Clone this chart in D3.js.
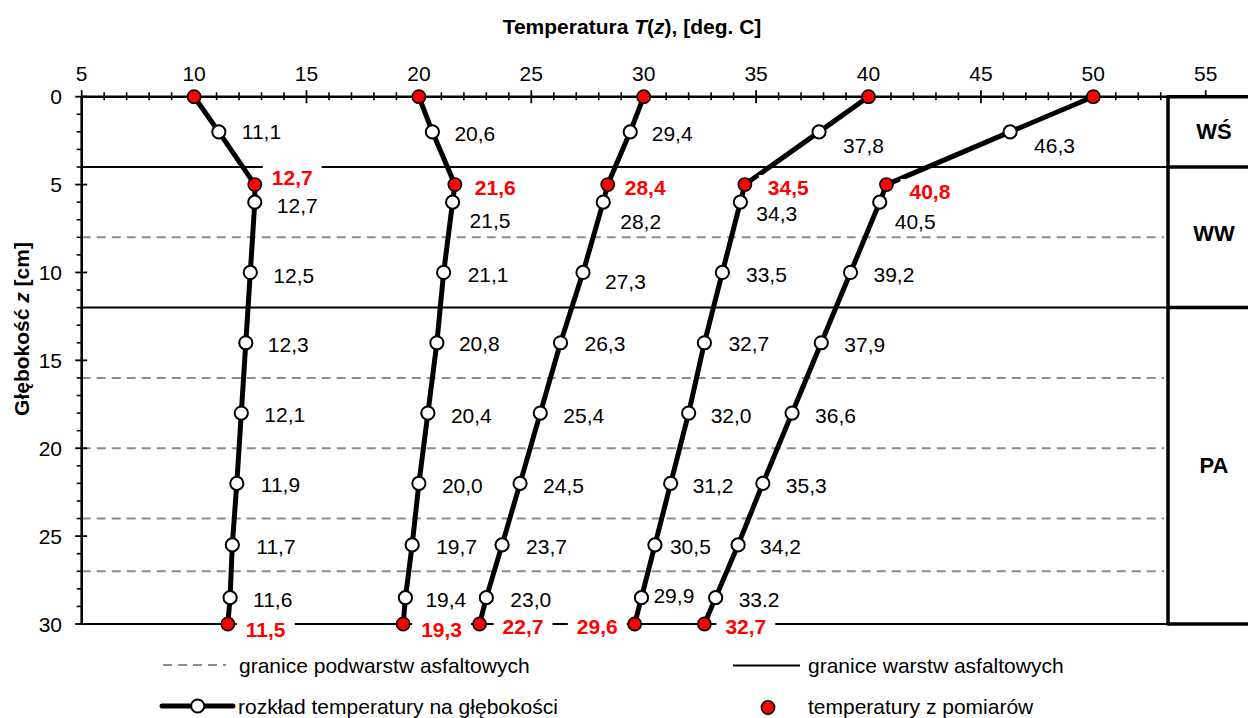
<!DOCTYPE html>
<html><head><meta charset="utf-8">
<script src="https://cdn.jsdelivr.net/npm/d3@7"></script>
<style>
body{margin:0;background:#fff}
svg{display:block}
text{font-family:"Liberation Sans",Arial,Helvetica,sans-serif}
</style>
</head><body><script>
// ---------- DATA ----------
const depths  = [0, 2, 5, 6, 10, 14, 18, 22, 25.5, 28.5, 30];
const series1 = [10, 11.1, 12.7, 12.7, 12.5, 12.3, 12.1, 11.9, 11.7, 11.6, 11.5];
const series2 = [20, 20.6, 21.6, 21.5, 21.1, 20.8, 20.4, 20.0, 19.7, 19.4, 19.3];
const series3 = [30, 29.4, 28.4, 28.2, 27.3, 26.3, 25.4, 24.5, 23.7, 23.0, 22.7];
const series4 = [40, 37.8, 34.5, 34.3, 33.5, 32.7, 32.0, 31.2, 30.5, 29.9, 29.6];
const series5 = [50, 46.3, 40.8, 40.5, 39.2, 37.9, 36.6, 35.3, 34.2, 33.2, 32.7];
const measuredIdx = [0, 2, 10];        // indices of measured temperatures (red)
const unlabeledIdx = [0];              // points without data label
const labelTextOverride = {"4-9": "33.2"}; // series index - point index
const xTicks = [5, 10, 15, 20, 25, 30, 35, 40, 45, 50, 55];
const yTicks = [0, 5, 10, 15, 20, 25, 30];
const layerBounds = [4, 12, 30];
const sublayerBounds = [8, 16, 20, 24, 27];
const layerNames = ["WŚ", "WW", "PA"];
const layerTop = [0, 4, 12];
const layerBottom = [4, 12, 30];
const titleX = ["Temperatura ", "T", "(", "z", "), [deg. C]"];
const titleY = ["Głębokość ", "z", " [cm]"];
const legendItems = ["granice podwarstw asfaltowych", "granice warstw asfaltowych",
                     "rozkład temperatury na głębokości", "temperatury z pomiarów"];

// ---------- STYLE (label nudges: [dx, dy] from point) ----------
const nudges = [
  [null,[23,0],[17,-7],[22,3],[23,3],[22,2],[23,1],[24,1],[24,2],[23,2],[18,5]],
  [null,[22,2],[20,3],[17,18],[24,2],[22,1],[23,2],[23,2],[24,2],[20,2],[18,5]],
  [null,[21.5,2],[17,3],[17,19.5],[22,9],[24,1],[23,2],[23,2],[24,2],[24,2],[23,2]],
  [null,[24,14],[23,3],[16,11],[23.6,2],[24,1],[22,2],[22,2],[15,2],[12,-2],[-17,2]],
  [null,[24,14],[23,7],[15,19],[23,2],[23,2],[23,2],[23,2],[22,2],[23,2],[21,2]]
];
const FS = 21;

const allSeries = [series1, series2, series3, series4, series5];
const W = 1248, H = 718;
const plotRight = 1168;

const svg = d3.select("body").append("svg").attr("width", W).attr("height", H);

const x = d3.scaleLinear().domain([5, 55]).range([81.7, 1205.7]);
const y = d3.scaleLinear().domain([0, 30]).range([96.7, 624]);
const x0 = x(5);

// sublayer dashed lines
svg.append("g").selectAll("line").data(sublayerBounds).join("line")
  .attr("x1", x0).attr("x2", plotRight - 4).attr("y1", d => y(d)).attr("y2", d => y(d))
  .attr("stroke", "#8c8c8c").attr("stroke-width", 2).attr("stroke-dasharray", "9,6");

// layer solid lines
svg.append("g").selectAll("line").data(layerBounds).join("line")
  .attr("x1", x0).attr("x2", plotRight).attr("y1", d => y(d)).attr("y2", d => y(d))
  .attr("stroke", "#000").attr("stroke-width", 2);

// top x axis
const xAxis = svg.append("g");
xAxis.append("line").attr("x1", x0).attr("x2", plotRight).attr("y1", y(0)).attr("y2", y(0))
  .attr("stroke", "#000").attr("stroke-width", 2.6);
const minorX = d3.range(6, 55).filter(v => v % 5 !== 0 && x(v) < plotRight - 3);
xAxis.selectAll(".mx").data(minorX).join("line")
  .attr("x1", d => x(d)).attr("x2", d => x(d)).attr("y1", y(0) - 4.5).attr("y2", y(0) + 3.5)
  .attr("stroke", "#000").attr("stroke-width", 1.6);
xAxis.selectAll(".Mx").data(xTicks).join("line")
  .attr("x1", d => x(d)).attr("x2", d => x(d))
  .attr("y1", y(0) - 6.5).attr("y2", d => x(d) < plotRight ? y(0) + 6.5 : y(0))
  .attr("stroke", "#000").attr("stroke-width", 1.8);
xAxis.selectAll("text").data(xTicks).join("text")
  .attr("x", d => x(d)).attr("y", 73.5).attr("text-anchor", "middle")
  .attr("dominant-baseline", "central").attr("font-size", FS).text(d => d);

// left y axis
const yAxis = svg.append("g");
yAxis.append("line").attr("x1", x0).attr("x2", x0).attr("y1", y(0)).attr("y2", y(30))
  .attr("stroke", "#000").attr("stroke-width", 2.6);
const minorY = d3.range(1, 30).filter(v => v % 5 !== 0);
yAxis.selectAll(".my").data(minorY).join("line")
  .attr("x1", x0 - 5).attr("x2", x0).attr("y1", d => y(d)).attr("y2", d => y(d))
  .attr("stroke", "#000").attr("stroke-width", 1.6);
yAxis.selectAll(".My").data(yTicks).join("line")
  .attr("x1", x0 - 6.5).attr("x2", x0 + 5.5).attr("y1", d => y(d)).attr("y2", d => y(d))
  .attr("stroke", "#000").attr("stroke-width", 1.8);
yAxis.selectAll("text").data(yTicks).join("text")
  .attr("x", 62).attr("y", d => y(d)).attr("text-anchor", "end")
  .attr("dominant-baseline", "central").attr("font-size", FS).text(d => d);

// titles
const tX = svg.append("text").attr("x", 632).attr("y", 33.5).attr("text-anchor", "middle")
  .attr("font-size", 21).attr("font-weight", "bold");
titleX.forEach((s, i) => tX.append("tspan").attr("font-style", (i === 1 || i === 3) ? "italic" : "normal").text(s));
const tY = svg.append("text").attr("transform", "translate(28.5,329) rotate(-90)")
  .attr("text-anchor", "middle").attr("font-size", 21).attr("font-weight", "bold");
titleY.forEach((s, i) => tY.append("tspan").attr("font-style", i === 1 ? "italic" : "normal").text(s));

// right layer box
const box = svg.append("g");
box.append("line").attr("x1", plotRight).attr("x2", plotRight).attr("y1", y(0) - 1.5).attr("y2", y(30) + 1.5)
  .attr("stroke", "#000").attr("stroke-width", 3.5);
box.selectAll(".bh").data([0].concat(layerBounds)).join("line")
  .attr("x1", plotRight).attr("x2", W).attr("y1", d => y(d)).attr("y2", d => y(d))
  .attr("stroke", "#000").attr("stroke-width", 3.5);
box.selectAll("text").data(layerNames).join("text")
  .attr("x", 1214).attr("y", (d, i) => (y(layerTop[i]) + y(layerBottom[i])) / 2 + (i === 1 ? -4 : 0))
  .attr("text-anchor", "middle").attr("dominant-baseline", "central")
  .attr("font-size", 22).attr("font-weight", "bold").text(d => d);

// series
const line = d3.line().x(d => x(d.t)).y(d => y(d.z));
const sg = svg.append("g");
allSeries.forEach((s, si) => {
  const pts = s.map((t, i) => ({t, z: depths[i], i, si}));
  sg.append("path").datum(pts).attr("d", line).attr("fill", "none")
    .attr("stroke", "#000").attr("stroke-width", 5).attr("stroke-linejoin", "round");
});
const labelsG = svg.append("g");
const markG = svg.append("g");
allSeries.forEach((s, si) => {
  const pts = s.map((t, i) => ({t, z: depths[i], i, si, m: measuredIdx.includes(i)}));
  markG.selectAll(null).data(pts).join("circle")
    .attr("cx", d => x(d.t)).attr("cy", d => y(d.z)).attr("r", 6.6)
    .attr("fill", d => d.m ? "#ff0000" : "#fff").attr("stroke", "#000")
    .attr("stroke-width", d => d.m ? 1.6 : 2);
  pts.filter(d => !unlabeledIdx.includes(d.i)).forEach(d => {
    const [dx, dy] = nudges[si][d.i];
    const txt = labelTextOverride[si + "-" + d.i] || d3.format(".1f")(d.t).replace(".", ",");
    const g = labelsG.append("g");
    const t = g.append("text")
      .attr("x", x(d.t) + dx).attr("y", y(d.z) + dy)
      .attr("text-anchor", dx < 0 ? "end" : "start").attr("dominant-baseline", "central")
      .attr("font-size", FS).attr("font-weight", d.m ? "bold" : "normal")
      .attr("fill", d.m ? "#ff0000" : "#000").text(txt);
    if (d.m) {
      const b = t.node().getBBox();
      g.insert("rect", "text").attr("x", b.x - 9).attr("y", b.y - 1).attr("width", b.width + 18)
        .attr("height", b.height + 2).attr("fill", "#fff");
    }
  });
});
markG.raise();

// legend
const lg = svg.append("g");
lg.append("line").attr("x1", 163).attr("x2", 226).attr("y1", 665).attr("y2", 665)
  .attr("stroke", "#8c8c8c").attr("stroke-width", 2).attr("stroke-dasharray", "9,6");
lg.append("line").attr("x1", 733).attr("x2", 800).attr("y1", 665.5).attr("y2", 665.5)
  .attr("stroke", "#000").attr("stroke-width", 2);
lg.append("line").attr("x1", 162).attr("x2", 233).attr("y1", 706).attr("y2", 706)
  .attr("stroke", "#000").attr("stroke-width", 5).attr("stroke-linecap", "round");
lg.append("circle").attr("cx", 197.7).attr("cy", 706).attr("r", 6.6).attr("fill", "#fff")
  .attr("stroke", "#000").attr("stroke-width", 2);
lg.append("circle").attr("cx", 768).attr("cy", 707.5).attr("r", 6.6).attr("fill", "#ff0000")
  .attr("stroke", "#000").attr("stroke-width", 1.6);
const legPos = [[239, 665], [808, 665], [238, 706], [808, 706]];
lg.selectAll("text").data(legendItems).join("text")
  .attr("x", (d, i) => legPos[i][0]).attr("y", (d, i) => legPos[i][1])
  .attr("dominant-baseline", "central").attr("font-size", FS).text(d => d);
</script></body></html>
